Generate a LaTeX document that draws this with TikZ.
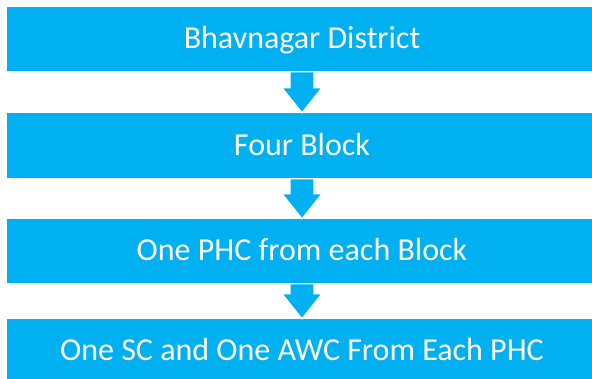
\documentclass[tikz,border=0pt]{standalone}
\usepackage{fontspec}
\setmainfont{Carlito}
\usetikzlibrary{calc}
\definecolor{boxblue}{HTML}{00B0F0}
\tikzset{
  x=1pt, y=1pt,
  stagebox/.style={fill=boxblue, draw=none, text=white, minimum width=590pt,
    minimum height=64pt, inner sep=0pt, font=\fontsize{32}{38}\selectfont,
    text height=20pt, text depth=0pt},
  downarrow/.style={fill=boxblue, draw=white, line width=1.3pt, line join=miter}
}
\newcommand\blockarrow[2]{%
  \path[downarrow]
    ($(#1.south)+(-12,-0.5)$) -- ($(#1.south)+(12,-0.5)$) --
    ($(#2.north)+(12,25)$) -- ($(#2.north)+(20,25)$) --
    ($(#2.north)+(0,0)$) --
    ($(#2.north)+(-20,25)$) -- ($(#2.north)+(-12,25)$) -- cycle;}
\begin{document}
\begin{tikzpicture}
\clip (0,0) rectangle (592,-379);
\fill[white] (0,0) rectangle (592,-379);
\node[stagebox] (b1) at (302,-39) {Bhavnagar District};
\node[stagebox, minimum height=65pt] (b2) at (302,-145.5) {Four Block};
\node[stagebox] (b3) at (302,-251) {One PHC from each Block};
\node[stagebox] (b4) at (302,-351) {One SC and One AWC From Each PHC};
\blockarrow{b1}{b2}
\blockarrow{b2}{b3}
\blockarrow{b3}{b4}
\end{tikzpicture}
\end{document}
